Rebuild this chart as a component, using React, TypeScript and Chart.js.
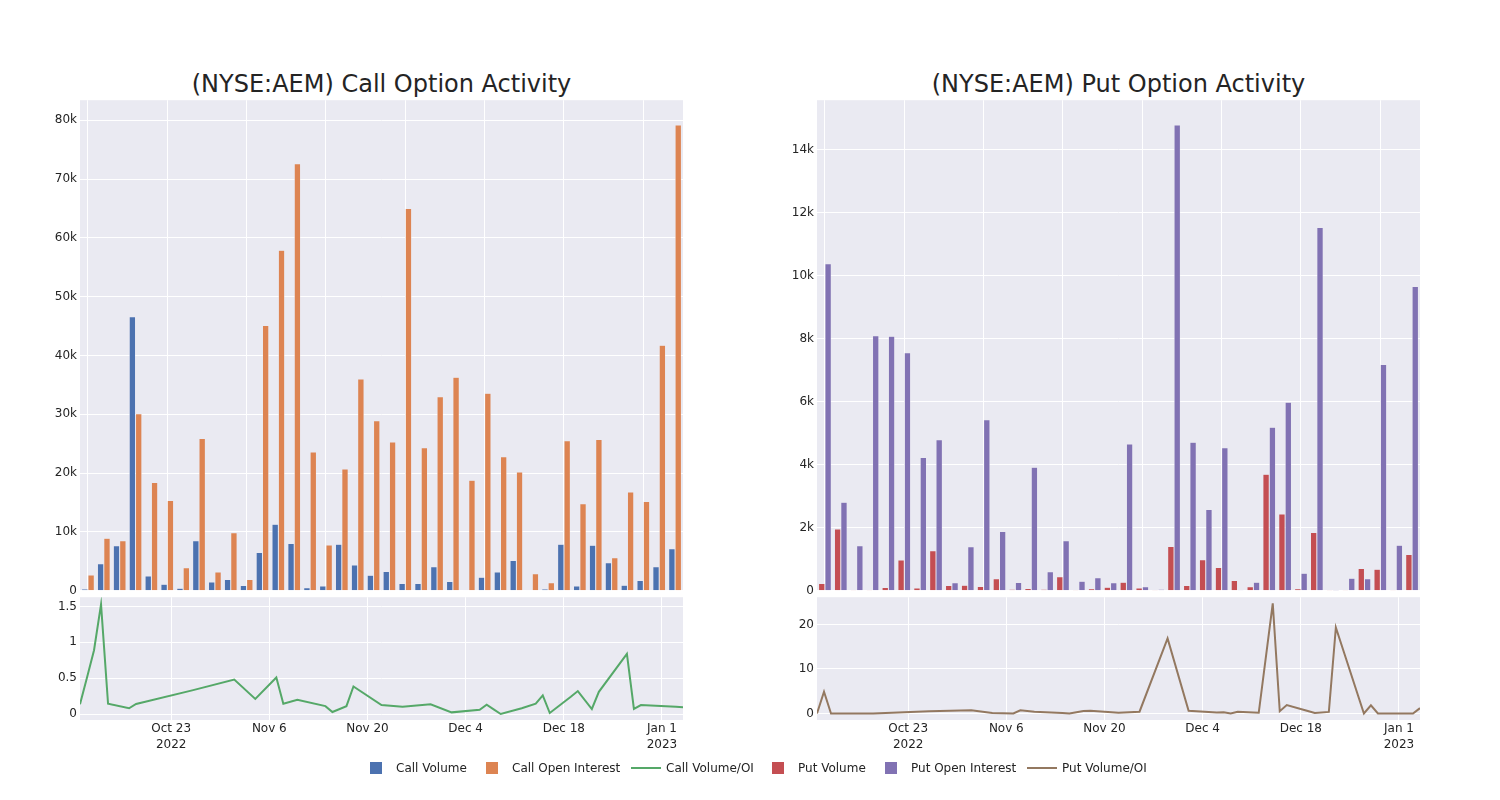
import React, { useEffect, useRef } from "react";
import { Chart, registerables } from "chart.js";

Chart.register(...registerables);

// ---------- data ----------
const categoryDates = [
  "2022-10-10", "2022-10-11", "2022-10-12", "2022-10-13", "2022-10-14", "2022-10-17", "2022-10-18",
  "2022-10-26", "2022-11-01", "2022-11-04", "2022-11-07", "2022-11-08", "2022-11-10", "2022-11-14",
  "2022-11-15", "2022-11-17", "2022-11-18", "2022-11-22", "2022-11-25", "2022-11-29", "2022-12-02",
  "2022-12-06", "2022-12-07", "2022-12-08", "2022-12-09", "2022-12-12", "2022-12-14", "2022-12-15",
  "2022-12-16", "2022-12-19", "2022-12-20", "2022-12-22", "2022-12-23", "2022-12-27", "2022-12-28",
  "2022-12-29", "2023-01-03", "2023-01-04",
];

const callVolume = [
  300, 4600, 7650, 46600, 2500, 1100, 450, 8500, 1500, 1900, 900, 6500, 11300, 8050, 500, 800, 7900, 4400, 2650,
  3300, 1250, 1250, 4100, 1600, 60, 2300, 3200, 5150, 60, 300, 7900, 800, 7750, 4750, 950, 1750, 4100, 7150,
];
const callOpenInterest = [
  2700, 8950, 8500, 30100, 18400, 15350, 3900, 25900, 3200, 9850, 1900, 45100, 57900, 72600, 23600, 7800, 20700,
  36000, 28900, 25300, 65000, 24300, 33000, 36300, 18800, 33600, 22800, 20200, 2900, 1350, 25500, 14800, 25700,
  5600, 16800, 15200, 41750, 79200,
];
const callRatio = [
  0.135, 0.51, 0.89, 1.53, 0.144, 0.08, 0.14, 0.33, 0.48, 0.21, 0.51, 0.144, 0.2, 0.11, 0.028, 0.11, 0.385, 0.125,
  0.1, 0.135, 0.023, 0.06, 0.13, 0.065, 0.0, 0.08, 0.144, 0.26, 0.014, 0.24, 0.32, 0.07, 0.31, 0.84, 0.07, 0.125,
  0.1, 0.093,
];

const putVolume = [
  233, 1960, 10, 10, 105, 975, 85, 1270, 170, 180, 138, 381, 53, 74, 53, 444, 30, 63, 116, 275, 85, 10, 1410, 170,
  984, 741, 328, 127, 3700, 2440, 63, 1850, 42, 10, 709, 688, 32, 1150,
];
const putOpenInterest = [
  10390, 2810, 1430, 8100, 8080, 7560, 4230, 4800, 254, 1400, 5430, 1880, 265, 3920, 603, 1590, 307, 413, 254,
  4660, 127, 53, 14790, 4720, 2580, 4540, 10, 275, 5190, 5990, 561, 11540, 5, 402, 381, 7190, 1450, 9660,
];
const putRatio = [
  0, 4.9, 0, 0, 0, 0, 0, 0.5, 0.75, 0.1, 0, 0.7, 0.4, 0.1, 0.0, 0.55, 0.6, 0.15, 0.4, 16.85, 0.6, 0.25, 0.3, 0,
  0.4, 0.15, 24.7, 0.5, 1.9, 0.55, 0.1, 0.35, 19.3, 0, 1.85, 0, 0, 1.2,
];

const callBarTicks = [0, 10000, 20000, 30000, 40000, 50000, 60000, 70000, 80000];
const putBarTicks = [0, 2000, 4000, 6000, 8000, 10000, 12000, 14000];
const callRatioTicks = [0, 0.5, 1, 1.5];
const putRatioTicks = [0, 10, 20];
const dateTicks = ["2022-10-23", "2022-11-06", "2022-11-20", "2022-12-04", "2022-12-18", "2023-01-01"];
const dateTickLabels: (string | string[])[] = [["Oct 23", "2022"], "Nov 6", "Nov 20", "Dec 4", "Dec 18", ["Jan 1", "2023"]];
const dateRange = ["2022-10-10", "2023-01-04"];

// ---------- styles ----------
const COLORS = {
  callVol: "rgb(76,114,176)",
  callOI: "rgb(221,132,82)",
  callRatio: "rgb(85,168,104)",
  putVol: "rgb(196,78,82)",
  putOI: "rgb(129,114,179)",
  putRatio: "rgb(147,120,96)",
};
const BG = "rgb(234,234,242)";
const TEXT = "rgb(36,36,36)";
const FAMILY = "'DejaVu Sans', Verdana, sans-serif";
const YW = 60;
const XH = 36;

const ms = (d: string) => {
  const [y, m, dd] = d.split("-").map(Number);
  return Date.UTC(y, m - 1, dd);
};

const bgPlugin = {
  id: "plotBg",
  beforeDraw(chart: any) {
    const { ctx, chartArea: a } = chart;
    ctx.save();
    ctx.fillStyle = BG;
    ctx.fillRect(a.left, a.top, a.right - a.left, a.bottom - a.top);
    ctx.restore();
  },
};

const kFmt = (v: any) => (Number(v) === 0 ? "0" : `${Number(v) / 1000}k`);
const numFmt = (v: any) => String(Number(v));

function yAxis(min: number, max: number, ticks: number[], fmt: (v: any) => string) {
  return {
    type: "linear",
    position: "left",
    min,
    max,
    afterFit: (s: any) => {
      s.width = YW;
    },
    afterBuildTicks: (s: any) => {
      s.ticks = ticks.map((v) => ({ value: v }));
    },
    ticks: { font: { family: FAMILY, size: 12 }, color: TEXT, padding: 3, callback: fmt },
    grid: { color: "#ffffff", lineWidth: 1, drawTicks: false },
    border: { display: false },
  };
}

function baseOptions(scales: any) {
  return {
    responsive: false,
    animation: false,
    maintainAspectRatio: false,
    layout: { padding: { top: 10, right: 10, bottom: 10, left: 0 } },
    plugins: { legend: { display: false }, tooltip: { enabled: false }, title: { display: false } },
    scales,
  };
}

function barConfig(vol: number[], oi: number[], c1: string, c2: string, l1: string, l2: string, yMax: number, ticks: number[]) {
  return {
    type: "bar",
    data: {
      labels: categoryDates,
      datasets: [
        { label: l1, data: vol, backgroundColor: c1, borderColor: BG, borderWidth: 0.5, categoryPercentage: 0.8, barPercentage: 1.0 },
        { label: l2, data: oi, backgroundColor: c2, borderColor: BG, borderWidth: 0.5, categoryPercentage: 0.8, barPercentage: 1.0 },
      ],
    },
    options: baseOptions({
      x: {
        type: "category",
        afterFit: (s: any) => {
          s.height = 0;
        },
        ticks: { display: false, autoSkip: false },
        grid: {
          offset: false,
          drawTicks: false,
          lineWidth: 1,
          color: (ctx: any) => (ctx.index % 5 === 0 ? "#ffffff" : "rgba(0,0,0,0)"),
        },
        border: { display: false },
      },
      y: yAxis(0, yMax, ticks, kFmt),
    }),
    plugins: [bgPlugin],
  };
}

function lineConfig(values: number[], color: string, label: string, yMin: number, yMax: number, ticks: number[]) {
  return {
    type: "line",
    data: {
      datasets: [
        {
          label,
          data: categoryDates.map((d, i) => ({ x: ms(d), y: values[i] })),
          borderColor: color,
          backgroundColor: color,
          borderWidth: 2,
          pointRadius: 0,
          tension: 0,
          fill: false,
        },
      ],
    },
    options: baseOptions({
      x: {
        type: "linear",
        min: ms(dateRange[0]),
        max: ms(dateRange[1]),
        afterFit: (s: any) => {
          s.height = XH;
        },
        afterBuildTicks: (s: any) => {
          s.ticks = dateTicks.map((d) => ({ value: ms(d) }));
        },
        ticks: {
          font: { family: FAMILY, size: 12, lineHeight: 1.3 },
          color: TEXT,
          padding: 1,
          maxRotation: 0,
          autoSkip: false,
          callback: (_v: any, i: number) => dateTickLabels[i],
        },
        grid: { color: "#ffffff", lineWidth: 1, drawTicks: false },
        border: { display: false },
      },
      y: yAxis(yMin, yMax, ticks, numFmt),
    }),
    plugins: [bgPlugin],
  };
}

function ChartBox(props: { L: number; T: number; R: number; B: number; xh: number; config: any }) {
  const ref = useRef<HTMLCanvasElement | null>(null);
  const { L, T, R, B, xh, config } = props;
  const width = R - L + YW + 10;
  const height = B - T + 20 + xh;
  useEffect(() => {
    if (!ref.current) return;
    const chart = new Chart(ref.current, config);
    return () => chart.destroy();
  }, []);
  return (
    <canvas
      ref={ref}
      width={width}
      height={height}
      style={{ position: "absolute", left: L - YW, top: T - 10, width, height }}
    />
  );
}

const legendItems = [
  { label: "Call Volume", color: COLORS.callVol, kind: "box", x: 370 },
  { label: "Call Open Interest", color: COLORS.callOI, kind: "box", x: 486 },
  { label: "Call Volume/OI", color: COLORS.callRatio, kind: "line", x: 631 },
  { label: "Put Volume", color: COLORS.putVol, kind: "box", x: 772 },
  { label: "Put Open Interest", color: COLORS.putOI, kind: "box", x: 885 },
  { label: "Put Volume/OI", color: COLORS.putRatio, kind: "line", x: 1027 },
];

export default function App() {
  const titleStyle = (L: number, R: number): React.CSSProperties => ({
    position: "absolute",
    left: L,
    width: R - L,
    top: 72,
    textAlign: "center",
    fontFamily: FAMILY,
    fontSize: 24,
    lineHeight: "24px",
    color: TEXT,
    whiteSpace: "nowrap",
  });
  return (
    <div style={{ position: "absolute", left: 0, top: 0, width: 1500, height: 800, background: "#fff", overflow: "hidden" }}>
      <div style={titleStyle(80, 683)}>(NYSE:AEM) Call Option Activity</div>
      <div style={titleStyle(817, 1420)}>(NYSE:AEM) Put Option Activity</div>

      <ChartBox
        L={80}
        T={100}
        R={683}
        B={591}
        xh={0}
        config={barConfig(callVolume, callOpenInterest, COLORS.callVol, COLORS.callOI, "Call Volume", "Call Open Interest", 83400, callBarTicks)}
      />
      <ChartBox
        L={80}
        T={597}
        R={683}
        B={720}
        xh={XH}
        config={lineConfig(callRatio, COLORS.callRatio, "Call Volume/OI", -0.0836, 1.63, callRatioTicks)}
      />
      <ChartBox
        L={817}
        T={100}
        R={1420}
        B={591}
        xh={0}
        config={barConfig(putVolume, putOpenInterest, COLORS.putVol, COLORS.putOI, "Put Volume", "Put Open Interest", 15580, putBarTicks)}
      />
      <ChartBox
        L={817}
        T={597}
        R={1420}
        B={720}
        xh={XH}
        config={lineConfig(putRatio, COLORS.putRatio, "Put Volume/OI", -1.46, 26.1, putRatioTicks)}
      />

      {legendItems.map((it) => (
        <div
          key={it.label}
          style={{
            position: "absolute",
            left: it.x,
            top: 761,
            height: 14,
            display: "flex",
            alignItems: "center",
            fontFamily: FAMILY,
            fontSize: 12,
            lineHeight: "14px",
            color: TEXT,
            whiteSpace: "nowrap",
          }}
        >
          {it.kind === "box" ? (
            <span style={{ display: "inline-block", width: 12, height: 12, background: it.color, marginRight: 14 }} />
          ) : (
            <span style={{ display: "inline-block", width: 30, height: 2, background: it.color, marginRight: 5 }} />
          )}
          <span>{it.label}</span>
        </div>
      ))}
    </div>
  );
}
